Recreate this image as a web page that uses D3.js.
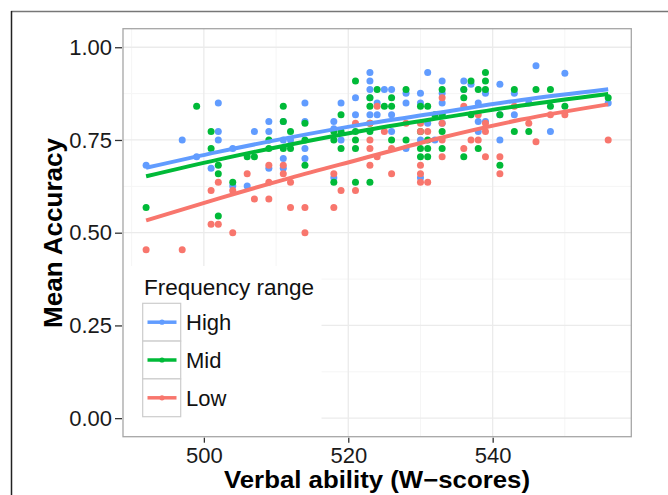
<!DOCTYPE html>
<html>
<head>
<meta charset="utf-8">
<script src="https://cdn.jsdelivr.net/npm/d3@7"></script>
<style>
  body { margin: 0; background: #fff; }
  text { font-family: "Liberation Sans", Arial, Helvetica, sans-serif; }
</style>
</head>
<body>
<div id="chart"></div>
<script>
// data: [W-score, mean accuracy]
const highPoints = [
  [492, 0.682], [497, 0.75], [499, 0.705], [501, 0.674],
  [502, 0.85], [502, 0.773], [502, 0.75], [504, 0.727], [504, 0.626], [506, 0.626], [507, 0.773],
  [509, 0.80], [509, 0.773], [509, 0.674], [511, 0.80], [511, 0.75], [511, 0.70], [511, 0.674],
  [512, 0.75], [514, 0.85], [514, 0.80], [514, 0.727], [514, 0.70],
  [518, 0.80], [518, 0.78], [518, 0.648], [519, 0.85], [519, 0.75], [521, 0.864], [521, 0.818],
  [523, 0.932], [523, 0.909], [523, 0.886], [523, 0.864], [523, 0.818], [524, 0.85], [524, 0.818],
  [525, 0.886], [526, 0.886], [526, 0.818], [526, 0.773], [528, 0.876], [528, 0.85], [528, 0.727],
  [530, 0.876], [530, 0.85], [530, 0.75], [530, 0.648], [531, 0.932], [531, 0.795], [532, 0.75],
  [533, 0.909], [533, 0.876], [533, 0.85], [533, 0.818], [533, 0.795], [536, 0.909], [536, 0.886],
  [537, 0.90], [538, 0.85], [538, 0.80], [538, 0.773], [539, 0.876], [539, 0.80],
  [541, 0.90], [541, 0.818], [541, 0.75], [543, 0.876], [543, 0.818], [545, 0.85], [546, 0.95],
  [548, 0.773], [550, 0.93], [556, 0.85]
];
const midPoints = [
  [492, 0.568], [499, 0.841], [501, 0.773], [501, 0.727], [502, 0.682], [502, 0.659], [502, 0.545],
  [504, 0.636], [506, 0.705], [507, 0.705], [509, 0.75], [509, 0.727],
  [511, 0.841], [511, 0.80], [511, 0.727], [512, 0.773], [512, 0.727], [514, 0.795], [514, 0.75], [514, 0.682],
  [518, 0.773], [518, 0.75], [518, 0.636], [519, 0.818], [519, 0.773], [519, 0.727],
  [521, 0.909], [521, 0.773], [521, 0.75], [521, 0.727], [521, 0.636],
  [523, 0.864], [523, 0.841], [523, 0.795], [523, 0.773], [523, 0.636], [524, 0.886], [525, 0.841],
  [526, 0.864], [526, 0.841], [526, 0.75], [528, 0.886], [528, 0.75],
  [530, 0.841], [530, 0.773], [530, 0.727], [530, 0.705], [531, 0.841], [531, 0.75], [531, 0.727], [531, 0.705],
  [532, 0.818], [533, 0.886], [533, 0.818], [533, 0.773], [533, 0.727],
  [536, 0.886], [536, 0.864], [536, 0.705], [537, 0.909], [537, 0.818], [538, 0.886], [538, 0.727],
  [539, 0.932], [539, 0.909], [539, 0.886], [541, 0.818], [541, 0.682], [543, 0.886], [543, 0.773],
  [545, 0.773], [546, 0.886], [548, 0.886], [548, 0.841], [550, 0.841], [556, 0.864]
];
const lowPoints = [
  [492, 0.454], [497, 0.454], [501, 0.614], [501, 0.523], [502, 0.636], [502, 0.523],
  [504, 0.614], [504, 0.50], [506, 0.659], [507, 0.591], [509, 0.682], [509, 0.636], [509, 0.591],
  [511, 0.682], [511, 0.659], [512, 0.636], [512, 0.568], [514, 0.568], [514, 0.50],
  [518, 0.659], [518, 0.568], [519, 0.614], [521, 0.795], [521, 0.614],
  [523, 0.795], [523, 0.75], [523, 0.727], [523, 0.682], [524, 0.841], [524, 0.705], [525, 0.773],
  [526, 0.727], [526, 0.659], [528, 0.795],
  [530, 0.795], [530, 0.773], [530, 0.682], [530, 0.659], [530, 0.636], [531, 0.773], [531, 0.636],
  [533, 0.864], [533, 0.795], [533, 0.75], [533, 0.705], [536, 0.841], [536, 0.727], [537, 0.75],
  [538, 0.818], [538, 0.75], [539, 0.795], [539, 0.773], [539, 0.705], [541, 0.705], [541, 0.659],
  [543, 0.841], [545, 0.795], [546, 0.745], [548, 0.818], [550, 0.818], [556, 0.75]
];

// fitted curves, read at a few W-scores
const fitW    = [492, 502, 512, 522, 532, 544, 556];
const fitHigh = [0.675, 0.718, 0.757, 0.792, 0.822, 0.858, 0.887];
const fitMid  = [0.652, 0.697, 0.738, 0.775, 0.807, 0.843, 0.874];
const fitLow  = [0.533, 0.592, 0.648, 0.700, 0.752, 0.805, 0.846];

const groups = ["High", "Mid", "Low"];
const xTicks = [500, 520, 540];
const yTicks = [0, 0.25, 0.5, 0.75, 1];
const xMinor = [490, 510, 530, 550];
const yMinor = [0.125, 0.375, 0.625, 0.875];

const series = [
  {name: "High", color: "#619CFF", points: highPoints, fit: fitHigh},
  {name: "Mid",  color: "#00BA38", points: midPoints,  fit: fitMid},
  {name: "Low",  color: "#F8766D", points: lowPoints,  fit: fitLow}
];

const width = 668, height = 495;
const panel = {left: 123, right: 631.3, top: 28.7, bottom: 436.7};

const svg = d3.select("#chart").append("svg")
  .attr("width", width)
  .attr("height", height);

// outer frame of the figure
svg.append("line").attr("x1", 11).attr("x2", width).attr("y1", 11.5).attr("y2", 11.5)
  .attr("stroke", "#777").attr("stroke-width", 1.5);
svg.append("line").attr("x1", 11.5).attr("x2", 11.5).attr("y1", 11).attr("y2", height)
  .attr("stroke", "#222").attr("stroke-width", 1.5);

//scales
const x = d3.scaleLinear().domain([488.8, 559.2]).range([panel.left, panel.right]);
const y = d3.scaleLinear().domain([-0.05, 1.05]).range([panel.bottom, panel.top]);

//grid
const grid = svg.append("g");
grid.selectAll(".minor-x").data(xMinor).enter().append("line")
  .attr("x1", x).attr("x2", x).attr("y1", panel.top).attr("y2", panel.bottom)
  .attr("stroke", "#f5f5f5").attr("stroke-width", 1);
grid.selectAll(".minor-y").data(yMinor).enter().append("line")
  .attr("y1", y).attr("y2", y).attr("x1", panel.left).attr("x2", panel.right)
  .attr("stroke", "#f5f5f5").attr("stroke-width", 1);
grid.selectAll(".major-x").data(xTicks).enter().append("line")
  .attr("x1", x).attr("x2", x).attr("y1", panel.top).attr("y2", panel.bottom)
  .attr("stroke", "#ebebeb").attr("stroke-width", 1.3);
grid.selectAll(".major-y").data(yTicks).enter().append("line")
  .attr("y1", y).attr("y2", y).attr("x1", panel.left).attr("x2", panel.right)
  .attr("stroke", "#ebebeb").attr("stroke-width", 1.3);

//points
series.forEach(function(s) {
  svg.append("g").selectAll("circle")
    .data(s.points)
    .enter().append("circle")
      .attr("cx", function(d) { return x(d[0]); })
      .attr("cy", function(d) { return y(d[1]); })
      .attr("r", 3.5)
      .attr("fill", s.color);
});

//fit lines
const line = d3.line()
  .curve(d3.curveMonotoneX)
  .x(function(d, i) { return x(fitW[i]); })
  .y(function(d) { return y(d); });

series.forEach(function(s) {
  svg.append("path")
    .attr("d", line(s.fit))
    .attr("fill", "none")
    .attr("stroke", s.color)
    .attr("stroke-width", 4)
    .attr("stroke-linecap", "butt");
});

//legend inside the panel, bottom-left
const legend = svg.append("g");
legend.append("rect")
  .attr("x", panel.left + 0.5).attr("y", 266)
  .attr("width", 198).attr("height", panel.bottom - 266)
  .attr("fill", "#fff");
legend.append("text")
  .attr("x", 144).attr("y", 295)
  .attr("font-size", 22)
  .attr("textLength", 170).attr("lengthAdjust", "spacingAndGlyphs")
  .attr("fill", "#111")
  .text("Frequency range");

const keyH = 37.8, keyTop = 303.3;
series.forEach(function(s, i) {
  const ky = keyTop + i * keyH;
  legend.append("rect")
    .attr("x", 142.7).attr("y", ky).attr("width", 38).attr("height", keyH)
    .attr("fill", "#fff").attr("stroke", "#cccccc").attr("stroke-width", 1.2);
  legend.append("line")
    .attr("x1", 147.5).attr("x2", 176.5).attr("y1", ky + keyH / 2).attr("y2", ky + keyH / 2)
    .attr("stroke", s.color).attr("stroke-width", 3.5);
  legend.append("circle")
    .attr("cx", 162).attr("cy", ky + keyH / 2).attr("r", 2.6).attr("fill", s.color);
  legend.append("text")
    .attr("x", 186).attr("y", ky + keyH / 2 + 8)
    .attr("font-size", 22).attr("fill", "#111")
    .text(s.name);
});

//panel border
svg.append("rect")
  .attr("x", panel.left).attr("y", panel.top)
  .attr("width", panel.right - panel.left).attr("height", panel.bottom - panel.top)
  .attr("fill", "none").attr("stroke", "#a6a6a6").attr("stroke-width", 1.3);

//axes
const yAxis = svg.append("g")
  .attr("transform", "translate(" + (panel.left - 1) + ",0)")
  .call(d3.axisLeft(y).tickValues(yTicks).tickFormat(d3.format(".2f")).tickSize(7).tickPadding(3));
const xAxis = svg.append("g")
  .attr("transform", "translate(0," + (panel.bottom + 1) + ")")
  .call(d3.axisBottom(x).tickValues(xTicks).tickSize(5).tickPadding(5));

[yAxis, xAxis].forEach(function(a) {
  a.select(".domain").remove();
  a.selectAll(".tick line").attr("stroke", "#333").attr("stroke-width", 1.3);
  a.selectAll(".tick text")
    .attr("font-family", "Liberation Sans, Arial, sans-serif")
    .attr("font-size", 22)
    .attr("fill", "#1a1a1a");
});

//axis titles
svg.append("text")
  .attr("x", 377).attr("y", 488)
  .attr("text-anchor", "middle")
  .attr("font-size", 24).attr("font-weight", "bold")
  .attr("textLength", 306).attr("lengthAdjust", "spacingAndGlyphs")
  .attr("fill", "#000")
  .text("Verbal ability (W\u2212scores)");

svg.append("text")
  .attr("transform", "translate(62,233) rotate(-90)")
  .attr("text-anchor", "middle")
  .attr("font-size", 26).attr("font-weight", "bold")
  .attr("textLength", 190).attr("lengthAdjust", "spacingAndGlyphs")
  .attr("fill", "#000")
  .text("Mean Accuracy");
</script>
</body>
</html>
